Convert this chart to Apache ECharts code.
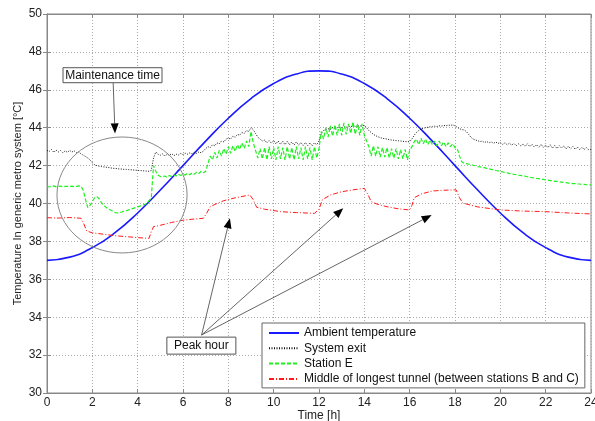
<!DOCTYPE html>
<html><head><meta charset="utf-8">
<script src="https://cdn.jsdelivr.net/npm/echarts@6/dist/echarts.min.js"></script>
<style>html,body{margin:0;padding:0;background:#fff}#c{width:595px;height:421px}</style>
</head><body><div id="c"></div>
<script>
// ---------- data ----------
const xTicks = [0,2,4,6,8,10,12,14,16,18,20,22,24];
const yTicks = [30,32,34,36,38,40,42,44,46,48,50];
const hoursCoarse = [0,1,2,3,4,5,6,7,8,9,10,11,12,13,14,15,16,17,18,19,20,21,22,23,24];
const hoursFine = Array.from({length: 241}, (_, i) => i / 10); // time grid, 0.1 h
const ambient = [37,37.17,37.67,38.46,39.5,40.71,42,43.29,44.5,45.54,46.33,46.83,47,46.83,46.33,45.54,44.5,43.29,42,40.71,39.5,38.46,37.67,37.17,37];
const systemExit = [
42.80,42.75,42.85,42.70,42.82,42.72,42.80,42.68,42.78,42.70,
42.80,42.72,42.78,42.68,42.72,42.62,42.55,42.48,42.40,42.30,
42.15,42.05,42.00,41.97,41.95,41.93,41.92,41.90,41.88,41.86,
41.85,41.84,41.82,41.82,41.80,41.80,41.79,41.78,41.77,41.76,
41.75,41.74,41.73,41.72,41.71,41.70,41.75,42.40,42.72,42.60,
42.55,42.62,42.50,42.60,42.55,42.63,42.52,42.60,42.56,42.64,
42.58,42.65,42.60,42.67,42.62,42.70,42.64,42.72,42.68,42.76,
42.90,43.00,42.95,43.10,43.05,43.20,43.15,43.30,43.25,43.40,
43.45,43.40,43.55,43.50,43.65,43.60,43.75,43.70,43.85,43.80,
44.00,43.90,43.70,43.50,43.40,43.30,43.35,43.20,43.32,43.18,
43.32,43.15,43.30,43.12,43.28,43.10,43.28,43.10,43.25,43.08,
43.25,43.08,43.22,43.06,43.22,43.05,43.20,43.05,43.20,43.10,
43.30,43.70,43.85,43.90,43.95,43.90,44.00,43.95,44.00,44.02,
44.00,44.05,44.02,44.08,44.05,44.10,44.05,44.10,44.08,44.12,
44.12,44.00,43.85,43.75,43.65,43.58,43.52,43.48,43.44,43.42,
43.40,43.37,43.35,43.34,43.32,43.31,43.30,43.28,43.27,43.26,
43.26,43.40,43.60,43.75,43.85,43.92,43.97,44.00,44.02,44.05,
44.05,44.08,44.06,44.10,44.08,44.12,44.10,44.14,44.12,44.15,
44.10,44.02,43.95,43.90,43.88,43.80,43.65,43.50,43.40,43.35,
43.32,43.26,43.30,43.22,43.27,43.20,43.25,43.18,43.24,43.17,
43.22,43.12,43.20,43.10,43.18,43.08,43.17,43.05,43.15,43.04,
43.14,43.02,43.15,43.00,43.12,42.98,43.10,42.97,43.12,42.96,
43.08,42.95,43.10,42.92,43.06,42.90,43.05,42.93,43.04,42.88,
43.02,42.88,43.00,42.86,42.98,42.84,42.97,42.85,42.95,42.83,
42.86];
const stationE = [
40.90,40.87,40.91,40.93,40.88,40.90,40.92,40.87,40.90,40.91,
40.89,40.92,40.88,40.90,40.93,40.90,40.70,40.20,39.78,39.90,
40.10,40.30,40.36,40.25,40.05,39.90,39.80,39.72,39.66,39.60,
39.52,39.50,39.52,39.55,39.60,39.62,39.66,39.70,39.74,39.78,
39.82,39.86,39.90,39.95,40.00,40.15,40.30,42.00,41.70,41.50,
41.42,41.40,41.45,41.38,41.48,41.42,41.50,41.45,41.55,41.48,
41.55,41.50,41.60,41.52,41.62,41.55,41.65,41.58,41.70,41.62,
41.70,42.10,42.50,42.30,42.70,42.40,42.80,42.50,42.90,42.60,
43.00,42.65,43.05,42.75,43.10,42.85,43.20,42.90,43.30,43.00,
43.80,43.20,42.80,42.40,42.90,42.35,42.95,42.30,43.00,42.35,
42.95,42.30,43.00,42.35,42.95,42.30,43.00,42.35,42.95,42.30,
43.00,42.35,42.95,42.30,43.00,42.35,42.95,42.30,43.00,42.40,
42.90,43.80,43.40,44.00,43.50,44.10,43.55,44.15,43.60,44.20,
43.60,44.25,43.65,44.20,43.70,44.30,43.65,44.20,43.60,44.20,
43.60,43.30,43.00,42.50,43.05,42.50,43.00,42.45,42.95,42.45,
42.95,42.40,42.90,42.40,42.90,42.35,42.85,42.35,42.85,42.30,
42.80,43.00,43.25,43.40,43.10,43.45,43.15,43.40,43.10,43.35,
43.10,43.30,43.05,43.30,43.05,43.25,43.00,43.20,43.00,43.15,
42.95,42.90,42.50,42.20,42.12,42.10,42.08,42.05,42.02,42.00,
41.95,41.93,41.90,41.89,41.85,41.83,41.80,41.78,41.74,41.72,
41.68,41.67,41.63,41.62,41.58,41.57,41.54,41.53,41.49,41.48,
41.45,41.44,41.41,41.39,41.36,41.35,41.32,41.31,41.28,41.27,
41.24,41.23,41.21,41.20,41.17,41.17,41.14,41.13,41.11,41.10,
41.08,41.07,41.05,41.05,41.03,41.03,41.01,41.01,40.99,40.99,
40.98];
const tunnelHours = [0,0.5,1,1.5,1.6,1.75,2,2.5,3,3.5,4,4.5,4.6,4.7,5,5.5,6,6.5,6.9,7.05,7.2,7.5,7.8,8.3,8.95,9.1,9.25,9.6,10.3,11,11.8,12,12.15,12.5,13,13.5,14,14.15,14.3,14.6,15,15.5,16,16.1,16.2,16.5,17,17.5,18.05,18.2,18.35,19,20,21,22,23,24];
const tunnelTemp  = [39.25,39.23,39.26,39.22,39.0,38.55,38.45,38.38,38.3,38.25,38.2,38.16,38.5,38.78,38.85,39.0,39.12,39.18,39.22,39.5,39.83,40.0,40.15,40.3,40.45,40.2,39.8,39.7,39.57,39.52,39.48,39.7,40.2,40.45,40.62,40.72,40.8,40.5,40.1,39.95,39.83,39.72,39.66,39.9,40.3,40.5,40.66,40.7,40.72,40.3,40.02,39.82,39.66,39.6,39.57,39.5,39.45];
const seriesNames = ['Ambient temperature','System exit','Station E','Middle of longest tunnel (between stations B and C)'];
// annotation anchors in data coordinates [h, °C]
const maintLabelAt = [2.89, 46.77];
const maintArrow = [[2.92, 46.36], [3.0, 43.7]];
const maintEllipse = {c: [3.31, 40.45], rh: 2.87, rv: 3.06};
const peakLabelAt = [6.81, 32.5];
const peakFrom = [6.82, 33.06];
const peakTips = [[8.07, 39.22], [13.07, 39.75], [16.97, 39.39]];

// ---------- chart ----------
const chart = echarts.init(document.getElementById('c'), null, {renderer: 'canvas'});
const FONT = 'Liberation Sans, Arial, sans-serif';
const option = {
  animation: false,
  backgroundColor: '#fff',
  textStyle: {fontFamily: FONT},
  grid: {left: 47, top: 14, right: 4, bottom: 28, containLabel: false, outerBoundsMode: 'none',
         show: true, borderColor: '#888', borderWidth: 1, backgroundColor: 'transparent'},
  xAxis: [{
    type: 'value', min: 0, max: 24, interval: 2,
    name: 'Time [h]', nameLocation: 'middle', nameGap: 17, nameMoveOverlap: false,
    nameTextStyle: {fontSize: 12, color: '#222', fontFamily: FONT},
    axisLine: {show: true, lineStyle: {color: '#888'}},
    axisTick: {show: true, inside: true, length: 4, lineStyle: {color: '#888'}},
    axisLabel: {fontSize: 12, color: '#222', margin: 4, fontFamily: FONT},
    splitLine: {show: true, lineStyle: {color: '#aaa', type: [1, 2], width: 1}}
  }, {
    type: 'value', min: 0, max: 24, interval: 2, position: 'top',
    axisLine: {show: true, lineStyle: {color: '#888'}},
    axisTick: {show: true, inside: true, length: 4, lineStyle: {color: '#888'}},
    axisLabel: {show: false}, splitLine: {show: false}
  }],
  yAxis: [{
    type: 'value', min: 30, max: 50, interval: 2,
    name: 'Temperature In generic metro system [°C]', nameLocation: 'middle', nameGap: 24, nameMoveOverlap: false,
    nameTextStyle: {fontSize: 11, color: '#222', fontFamily: FONT},
    axisLine: {show: true, lineStyle: {color: '#888'}},
    axisTick: {show: true, inside: true, length: 4, lineStyle: {color: '#888'}},
    axisLabel: {fontSize: 12, color: '#222', margin: 5, fontFamily: FONT},
    splitLine: {show: true, lineStyle: {color: '#aaa', type: [1, 2], width: 1}}
  }, {
    type: 'value', min: 30, max: 50, interval: 2, position: 'right',
    axisLine: {show: true, lineStyle: {color: '#888'}},
    axisTick: {show: true, inside: true, length: 4, lineStyle: {color: '#888'}},
    axisLabel: {show: false}, splitLine: {show: false}
  }],
  legend: {
    orient: 'vertical', left: 262, top: 323,
    backgroundColor: '#fff', borderColor: '#666', borderWidth: 1,
    padding: [4, 6, 3, 6], itemWidth: 30, itemHeight: 12, itemGap: 3.3,
    itemStyle: {opacity: 0, borderWidth: 0},
    textStyle: {fontSize: 12, color: '#111', fontFamily: FONT},
    data: seriesNames
  },
  series: [
    {name: seriesNames[0], type: 'line', symbol: 'none', showSymbol: false, smooth: true,
     data: hoursCoarse.map((t, i) => [t, ambient[i]]),
     lineStyle: {color: '#1a1aff', width: 1.6}, itemStyle: {color: '#1a1aff'}},
    {name: seriesNames[1], type: 'line', symbol: 'none', showSymbol: false,
     data: hoursFine.map((t, i) => [t, systemExit[i]]),
     lineStyle: {color: '#111', width: 1, type: [1, 1.5]}, itemStyle: {color: '#111'}},
    {name: seriesNames[2], type: 'line', symbol: 'none', showSymbol: false,
     data: hoursFine.map((t, i) => [t, stationE[i]]),
     lineStyle: {color: '#1ef01e', width: 1.2, type: [4, 2]}, itemStyle: {color: '#1ef01e'}},
    {name: seriesNames[3], type: 'line', symbol: 'none', showSymbol: false,
     data: tunnelHours.map((t, i) => [t, tunnelTemp[i]]),
     lineStyle: {color: '#ff1a1a', width: 1, type: [5, 2, 1, 2]}, itemStyle: {color: '#ff1a1a'}}
  ]
};
chart.setOption(option);

// ---------- annotations ----------
const P = (d) => chart.convertToPixel({gridIndex: 0}, d);
function arrow(a, b, headLen, headW) {
  const dx = b[0] - a[0], dy = b[1] - a[1];
  const L = Math.hypot(dx, dy), ux = dx / L, uy = dy / L;
  const bx = b[0] - ux * headLen, by = b[1] - uy * headLen;
  const nx = -uy, ny = ux;
  return [
    {type: 'line', shape: {x1: a[0], y1: a[1], x2: bx, y2: by}, style: {stroke: '#555', lineWidth: 0.9}, z: 100},
    {type: 'polygon', shape: {points: [[b[0], b[1]], [bx + nx * headW / 2, by + ny * headW / 2], [bx - nx * headW / 2, by - ny * headW / 2]]}, style: {fill: '#000'}, z: 101}
  ];
}
function labelBox(c, text, w, h) {
  return [
    {type: 'rect', shape: {x: c[0] - w / 2, y: c[1] - h / 2, width: w, height: h}, style: {fill: '#fff', stroke: '#555', lineWidth: 1}, z: 102},
    {type: 'text', x: c[0], y: c[1], style: {text: text, fontSize: 12, fontFamily: FONT, fill: '#111', align: 'center', verticalAlign: 'middle'}, z: 103}
  ];
}
const ec = P(maintEllipse.c);
const ecx = P([maintEllipse.c[0] + maintEllipse.rh, maintEllipse.c[1] + maintEllipse.rv]);
const elements = [
  {type: 'ellipse', shape: {cx: ec[0], cy: ec[1], rx: Math.abs(ecx[0] - ec[0]), ry: Math.abs(ecx[1] - ec[1])}, style: {fill: 'none', stroke: '#888', lineWidth: 1}, z: 99},
  ...arrow(P(maintArrow[0]), P(maintArrow[1]), 10, 8),
  ...labelBox(P(maintLabelAt), 'Maintenance time', 99, 15),
  ...peakTips.flatMap(tp => arrow(P(peakFrom), P(tp), 10, 8)),
  ...labelBox(P(peakLabelAt), 'Peak hour', 69, 17)
];
chart.setOption({graphic: {elements: elements}});
</script>
</body></html>
